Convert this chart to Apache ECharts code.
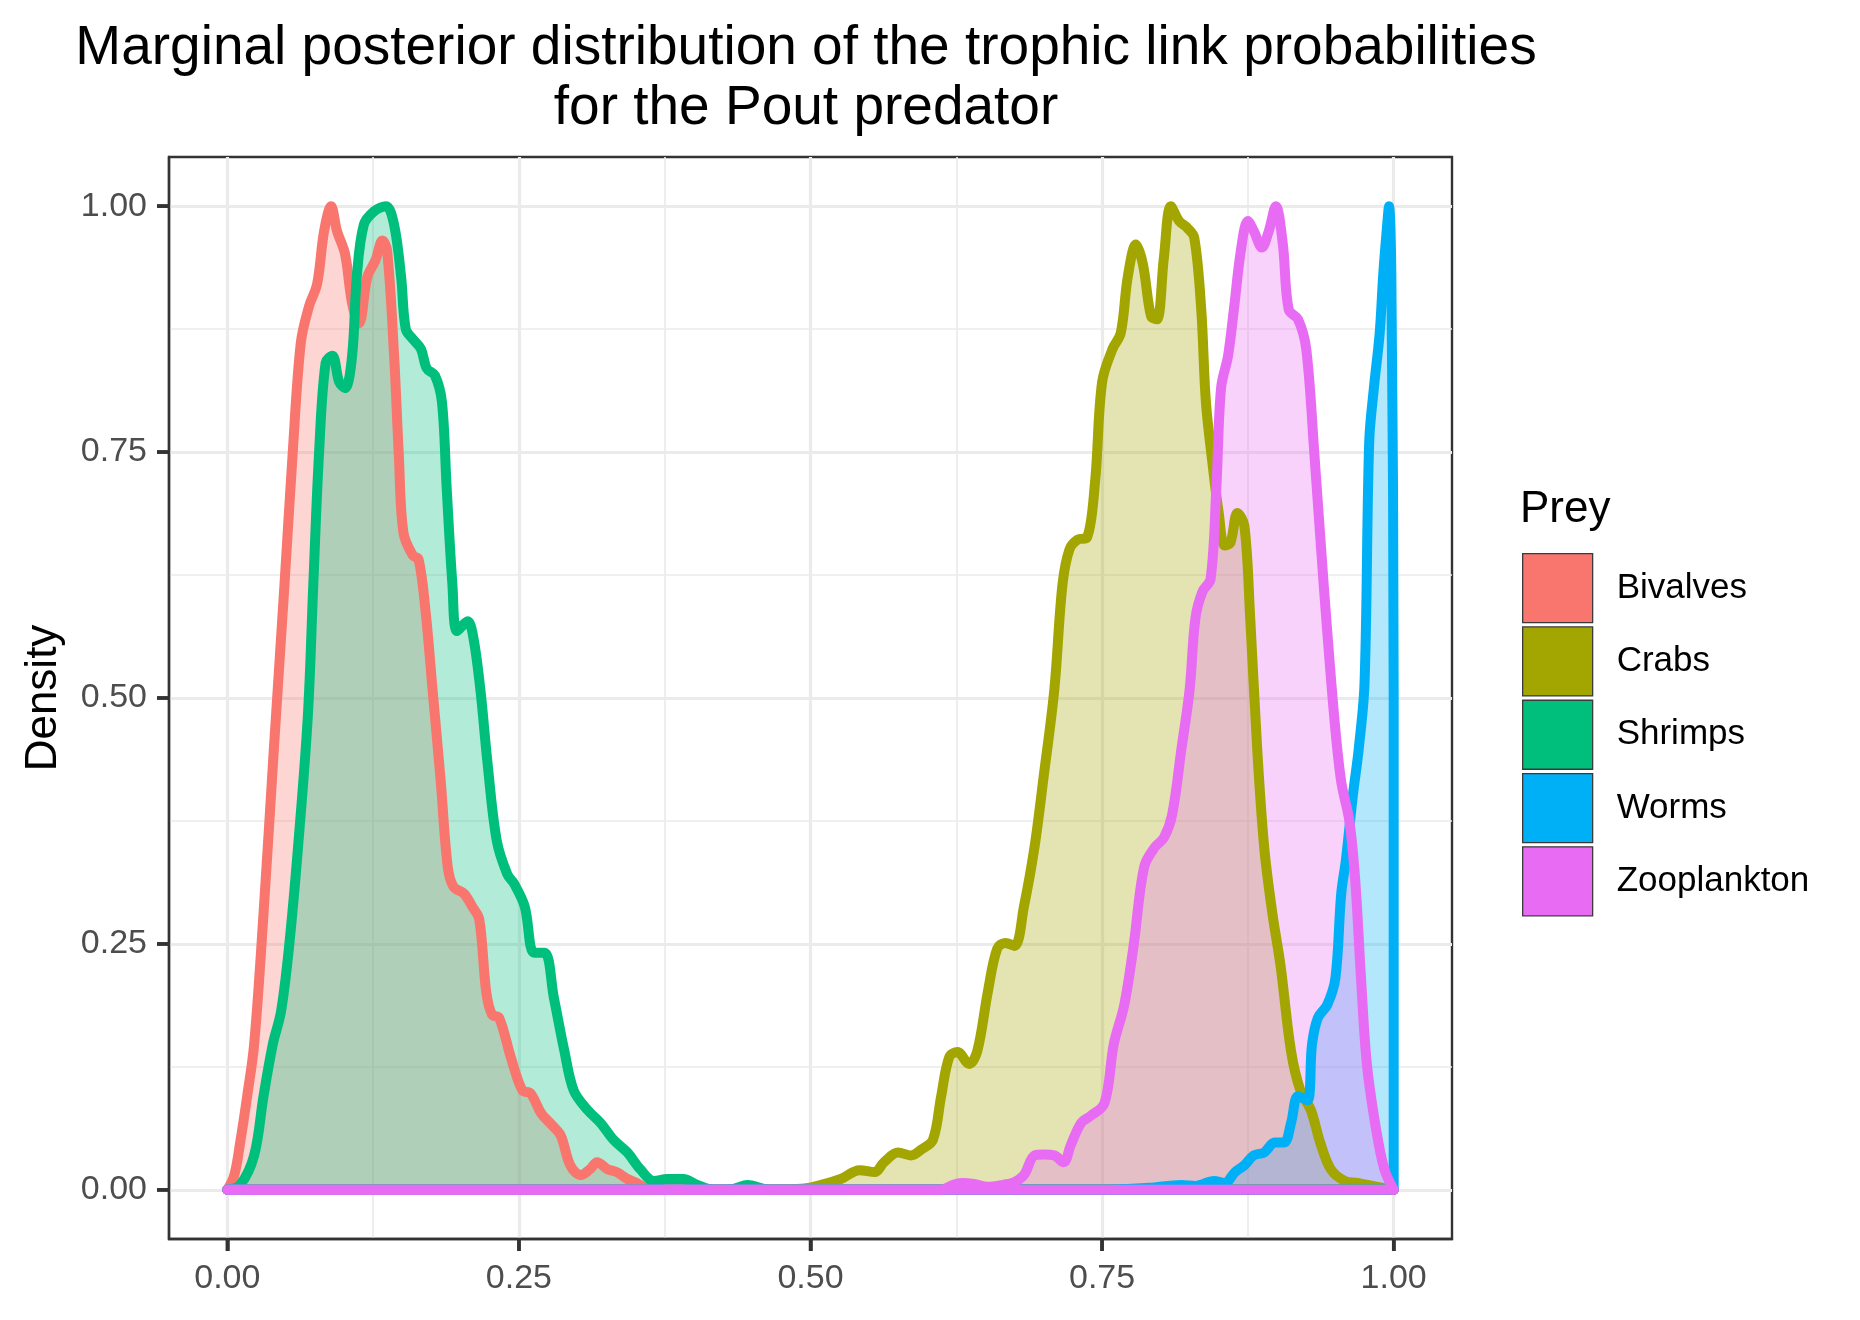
<!DOCTYPE html>
<html>
<head>
<meta charset="utf-8">
<title>Marginal posterior distribution - Pout</title>
<script src="https://cdn.jsdelivr.net/npm/echarts@6/dist/echarts.min.js"></script>
<style>
html, body { margin: 0; padding: 0; background: #fff; }
#chart { width: 1860px; height: 1320px; }
</style>
</head>
<body>
<div id="chart"></div>
<script>
// prey groups, ggplot default hue palette
var preyNames  = ['Bivalves', 'Crabs', 'Shrimps', 'Worms', 'Zooplankton'];
var preyColors = ['#F8766D', '#A3A500', '#00BF7D', '#00B0F6', '#E76BF3'];

var xTicks      = [0, 0.25, 0.5, 0.75, 1];
var xMinorTicks = [0.125, 0.375, 0.625, 0.875];
var yTicks      = [0, 0.25, 0.5, 0.75, 1];
var yMinorTicks = [0.125, 0.375, 0.625, 0.875];

// scaled densities, [link probability, density]
var bivalves = [
	[0, 0], [0.006, 0.015], [0.011, 0.048], [0.017, 0.095], [0.023, 0.148], [0.031, 0.28],
	[0.04, 0.45], [0.049, 0.615], [0.056, 0.748], [0.063, 0.861], [0.07, 0.898], [0.077, 0.921],
	[0.083, 0.975], [0.089, 1.0], [0.094, 0.975], [0.101, 0.951], [0.107, 0.901], [0.113, 0.881],
	[0.12, 0.928], [0.127, 0.945], [0.133, 0.965], [0.137, 0.955], [0.143, 0.848], [0.147, 0.748],
	[0.151, 0.668], [0.159, 0.645], [0.164, 0.641], [0.17, 0.588], [0.176, 0.508], [0.183, 0.415],
	[0.189, 0.328], [0.194, 0.308], [0.203, 0.301], [0.21, 0.288], [0.216, 0.275], [0.222, 0.201],
	[0.227, 0.178], [0.233, 0.175], [0.243, 0.135], [0.253, 0.101], [0.26, 0.098], [0.269, 0.078],
	[0.279, 0.065], [0.286, 0.055], [0.294, 0.025], [0.303, 0.015], [0.311, 0.021], [0.317, 0.028],
	[0.326, 0.021], [0.334, 0.018], [0.343, 0.011], [0.351, 0.007], [0.36, 0.001], [0.37, 0], [1, 0]
];
var crabs = [
	[0, 0], [0.45, 0], [0.492, 0.001], [0.509, 0.005], [0.526, 0.011], [0.542, 0.02], [0.555, 0.018],
	[0.563, 0.028], [0.575, 0.038], [0.586, 0.035], [0.595, 0.041], [0.605, 0.051], [0.612, 0.095],
	[0.619, 0.135], [0.626, 0.14], [0.636, 0.128], [0.643, 0.141], [0.652, 0.201], [0.66, 0.245],
	[0.667, 0.251], [0.675, 0.248], [0.683, 0.288], [0.692, 0.348], [0.7, 0.421], [0.709, 0.508],
	[0.716, 0.615], [0.722, 0.651], [0.729, 0.661], [0.737, 0.663], [0.744, 0.72], [0.75, 0.821],
	[0.759, 0.855], [0.766, 0.871], [0.772, 0.928], [0.779, 0.961], [0.785, 0.941], [0.792, 0.888],
	[0.797, 0.885], [0.803, 0.948], [0.809, 1.0], [0.816, 0.985], [0.823, 0.978], [0.829, 0.968],
	[0.835, 0.895], [0.839, 0.801], [0.845, 0.735], [0.85, 0.688], [0.855, 0.655], [0.86, 0.658],
	[0.866, 0.688], [0.872, 0.675], [0.877, 0.581], [0.883, 0.448], [0.889, 0.348], [0.896, 0.281],
	[0.903, 0.228], [0.912, 0.141], [0.92, 0.101], [0.929, 0.081], [0.937, 0.048], [0.946, 0.021],
	[0.958, 0.009], [0.969, 0.007], [0.986, 0.003], [1, 0]
];
var shrimps = [
	[0, 0], [0.011, 0.005], [0.023, 0.035], [0.031, 0.095], [0.039, 0.148], [0.046, 0.181],
	[0.053, 0.248], [0.0606, 0.348], [0.069, 0.481], [0.0737, 0.615], [0.0786, 0.748], [0.0843, 0.841],
	[0.09, 0.848], [0.096, 0.821], [0.101, 0.815], [0.107, 0.848], [0.111, 0.928], [0.117, 0.981],
	[0.126, 0.995], [0.136, 1.0], [0.143, 0.981], [0.149, 0.928], [0.153, 0.875], [0.159, 0.865],
	[0.166, 0.855], [0.171, 0.835], [0.178, 0.828], [0.184, 0.801], [0.188, 0.715], [0.193, 0.615],
	[0.197, 0.568], [0.206, 0.578], [0.211, 0.561], [0.217, 0.508], [0.223, 0.435], [0.231, 0.355],
	[0.24, 0.321], [0.246, 0.311], [0.255, 0.288], [0.263, 0.241], [0.272, 0.241], [0.28, 0.195],
	[0.289, 0.141], [0.297, 0.101], [0.309, 0.081], [0.32, 0.068], [0.331, 0.051], [0.343, 0.038],
	[0.354, 0.021], [0.366, 0.009], [0.377, 0.011], [0.391, 0.011], [0.403, 0.005], [0.417, 0],
	[0.434, 0.001], [0.446, 0.005], [0.46, 0.001], [0.47, 0], [1, 0]
];
var worms = [
	[0, 0], [0.75, 0], [0.79, 0.002], [0.818, 0.005], [0.83, 0.004], [0.846, 0.009], [0.855, 0.007],
	[0.864, 0.018], [0.872, 0.025], [0.88, 0.035], [0.889, 0.038], [0.898, 0.048], [0.906, 0.048],
	[0.912, 0.068], [0.918, 0.095], [0.926, 0.091], [0.93, 0.148], [0.935, 0.175], [0.943, 0.188],
	[0.95, 0.215], [0.955, 0.301], [0.959, 0.335], [0.965, 0.401], [0.97, 0.448], [0.975, 0.515],
	[0.979, 0.76], [0.983, 0.815], [0.988, 0.871], [0.991, 0.93], [0.994, 0.975], [0.996, 1.0],
	[0.998, 0.93], [1, 0.5], [1, 0]
];
var zooplankton = [
	[0, 0], [0.612, 0], [0.62, 0.004], [0.63, 0.007], [0.64, 0.006], [0.652, 0.003], [0.665, 0.005],
	[0.675, 0.008], [0.683, 0.015], [0.692, 0.035], [0.7, 0.036], [0.709, 0.035], [0.717, 0.028],
	[0.723, 0.045], [0.732, 0.068], [0.74, 0.075], [0.752, 0.088], [0.76, 0.148], [0.769, 0.188],
	[0.777, 0.248], [0.786, 0.328], [0.795, 0.348], [0.803, 0.358], [0.81, 0.381], [0.818, 0.448],
	[0.825, 0.508], [0.83, 0.581], [0.836, 0.608], [0.843, 0.621], [0.848, 0.715], [0.852, 0.815],
	[0.858, 0.848], [0.863, 0.895], [0.869, 0.955], [0.875, 0.985], [0.88, 0.975], [0.887, 0.958],
	[0.893, 0.975], [0.899, 1.0], [0.905, 0.961], [0.91, 0.895], [0.918, 0.885], [0.925, 0.855],
	[0.932, 0.748], [0.94, 0.615], [0.949, 0.481], [0.955, 0.415], [0.962, 0.375], [0.967, 0.315],
	[0.972, 0.215], [0.977, 0.128], [0.985, 0.061], [0.992, 0.021], [1, 0]
];
var preyData = [bivalves, crabs, shrimps, worms, zooplankton];

var font = '"Liberation Sans", Arial, Helvetica, sans-serif';
var gridColor = '#EBEBEB';
var borderColor = '#333333';
var tickLen = 12;

function fmt(v){
	return v.toFixed(2);
}

// axis that only carries the minor grid lines
function minorAxis(ticks){
	return {
		type: 'value', min: -0.05, max: 1.05,
		axisLine: {show: false, onZero: false},
		axisTick: {show: false, customValues: ticks},
		axisLabel: {show: false, customValues: ticks},
		splitLine: {show: true, lineStyle: {color: gridColor, width: 1.7}}
	};
}

// axis with labels and major grid
function mainAxis(ticks, margin, pos){
	return {
		type: 'value', min: -0.05, max: 1.05, position: pos,
		axisLine: {show: true, onZero: false, lineStyle: {color: borderColor, width: 2.4}},
		axisTick: {show: true, inside: false, length: tickLen, customValues: ticks, lineStyle: {color: borderColor, width: 3.5}},
		axisLabel: {show: true, customValues: ticks, margin: margin, formatter: fmt, fontFamily: font, fontSize: 34, color: '#4D4D4D'},
		splitLine: {show: true, lineStyle: {color: gridColor, width: 3.2}}
	};
}

// each density: filled curve, then its outline closed along the zero line (ggplot draws the full polygon)
var series = [];
preyNames.map(function(n, i){
	var d = preyData[i];
	series.push({
		name: n,
		type: 'line',
		data: d,
		showSymbol: false,
		symbol: 'none',
		smooth: 0.35,
		silent: true,
		itemStyle: {color: preyColors[i]},
		lineStyle: {color: preyColors[i], width: 10, cap: 'round', join: 'round'},
		areaStyle: {color: preyColors[i], opacity: 0.3, origin: 0}
	});
	series.push({
		name: n + ' base',
		type: 'line',
		data: [[d[0][0], 0], [d[d.length - 1][0], 0]],
		showSymbol: false,
		symbol: 'none',
		silent: true,
		lineStyle: {color: preyColors[i], width: 10, cap: 'round'}
	});
});

var grid = {
	left: 169, top: 157, width: 1283, height: 1082,
	show: true, borderColor: borderColor, borderWidth: 2.4, backgroundColor: 'transparent'
};

var chart = echarts.init(document.getElementById('chart'), null, {renderer: 'canvas'});

var option = {
	animation: false,
	backgroundColor: '#fff',
	title: [{
		text: 'Marginal posterior distribution of the trophic link probabilities\nfor the Pout predator',
		left: 801, top: 14, textAlign: 'center',
		textStyle: {fontFamily: font, fontSize: 55, fontWeight: 'normal', color: '#000', lineHeight: 60}
	}, {
		text: 'Prey',
		left: 1520, top: 488, padding: 0,
		textStyle: {fontFamily: font, fontSize: 44, fontWeight: 'normal', color: '#000', lineHeight: 44}
	}],
	graphic: [{
		id: 'ytitle',
		type: 'text',
		x: 44, y: 698,
		rotation: Math.PI / 2,
		style: {text: 'Density', align: 'center', verticalAlign: 'middle', font: '44px ' + font, fill: '#000'}
	}],
	legend: {
		orient: 'vertical',
		left: 1522, top: 553,
		padding: 0,
		itemWidth: 70, itemHeight: 69, itemGap: 3,
		icon: 'rect',
		selectedMode: false,
		itemStyle: {borderColor: '#3a3a3a', borderWidth: 1.3},
		textStyle: {fontFamily: font, fontSize: 35, color: '#000', padding: [0, 0, 0, 19]},
		data: preyNames.map(function(n, i){
			return {name: n, itemStyle: {color: preyColors[i]}};
		})
	},
	grid: grid,
	xAxis: [mainAxis(xTicks, 23, 'bottom'), minorAxis(xMinorTicks)],
	yAxis: [mainAxis(yTicks, 22, 'left'), minorAxis(yMinorTicks)],
	series: series
};

chart.setOption(option);

// tick marks outside the panel, placed through the axes' own scales
var tickEls = [];
var panelBottom = grid.top + grid.height;
xTicks.map(function(v, i){
	var px = chart.convertToPixel({xAxisIndex: 0}, v);
	tickEls.push({
		id: 'xt' + i, type: 'line', silent: true, z: 10,
		shape: {x1: px, y1: panelBottom, x2: px, y2: panelBottom + tickLen},
		style: {stroke: borderColor, lineWidth: 3.5}
	});
});
yTicks.map(function(v, i){
	var py = chart.convertToPixel({yAxisIndex: 0}, v);
	tickEls.push({
		id: 'yt' + i, type: 'line', silent: true, z: 10,
		shape: {x1: grid.left - tickLen, y1: py, x2: grid.left, y2: py},
		style: {stroke: borderColor, lineWidth: 3.5}
	});
});
chart.setOption({graphic: tickEls});
</script>
</body>
</html>
